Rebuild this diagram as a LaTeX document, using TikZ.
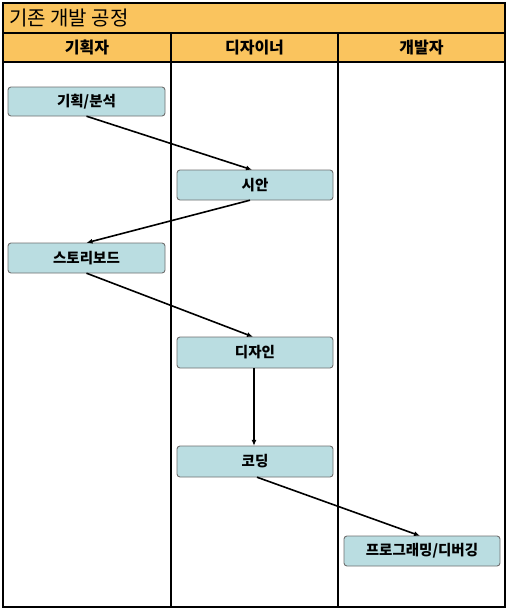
\documentclass[tikz,border=0pt]{standalone}
\usepackage{fontspec}
\newfontfamily\kr{Noto Sans CJK KR}
\usetikzlibrary{arrows.meta}
\definecolor{hdr}{HTML}{FAC45E}
\definecolor{boxfill}{HTML}{BADDE1}
\definecolor{boxline}{HTML}{707070}
\tikzset{
  frame/.style={draw=black, line width=1.6pt},
  stepbox/.style={draw=boxline, fill=boxfill, rounded corners=3pt, line width=0.9pt},
  steplabel/.style={font=\kr\bfseries\fontsize{14.5}{16}\selectfont, inner sep=0pt},
  flow/.style={draw=black, line width=1.6pt, -{Latex[length=6pt,width=5pt]}},
  hdrtext/.style={font=\kr\bfseries\fontsize{16}{18}\selectfont}
}
\begin{document}
\begin{tikzpicture}[x=1pt,y=-1pt]
\useasboundingbox (0,0) rectangle (509,611);
\fill[white] (0,0) rectangle (509,611);
% title and header bands
\fill[hdr] (3,3) rectangle (505,62);
\draw[frame] (3,3) rectangle (505,607);
\draw[frame] (3,33) -- (505,33);
\draw[frame] (3,62) -- (505,62);
\draw[frame] (171,33) -- (171,607);
\draw[frame] (338,33) -- (338,607);
\node[anchor=west, font=\kr\fontsize{20}{22}\selectfont, inner sep=0pt] (title) at (9,18) {기존 개발 공정};
\node[hdrtext] (h1) at (87,47.5) {기획자};
\node[hdrtext] (h2) at (254.5,47.5) {디자이너};
\node[hdrtext] (h3) at (421.5,47.5) {개발자};
% steps
\path[stepbox] (8,87) rectangle (165,116);
\node[steplabel, minimum width=157pt, minimum height=29pt] (a) at (86.5,101.5) {기획/분석};
\path[stepbox] (177,170) rectangle (333,200);
\node[steplabel, minimum width=156pt, minimum height=30pt] (b) at (255,185) {시안};
\path[stepbox] (8,243) rectangle (165,273);
\node[steplabel, minimum width=157pt, minimum height=30pt] (c) at (86.5,258) {스토리보드};
\path[stepbox] (177,337) rectangle (333,368);
\node[steplabel, minimum width=156pt, minimum height=31pt] (d) at (255,352.5) {디자인};
\path[stepbox] (177,446) rectangle (333,477);
\node[steplabel, minimum width=156pt, minimum height=31pt] (e) at (255,461.5) {코딩};
\path[stepbox] (344,536) rectangle (500,566);
\node[steplabel, minimum width=156pt, minimum height=30pt] (f) at (422,551) {프로그래밍/디버깅};
% connectors
\draw[flow] (a.south) -- ([xshift=-3pt]b.north);
\draw[flow] ([xshift=-5pt]b.south) -- (c.north);
\draw[flow] (c.south) -- ([xshift=-2pt]d.north);
\draw[flow] ([xshift=-1pt]d.south) -- ([xshift=-1pt]e.north);
\draw[flow] ([xshift=2pt]e.south) -- ([xshift=-2pt]f.north);
\end{tikzpicture}
\end{document}
